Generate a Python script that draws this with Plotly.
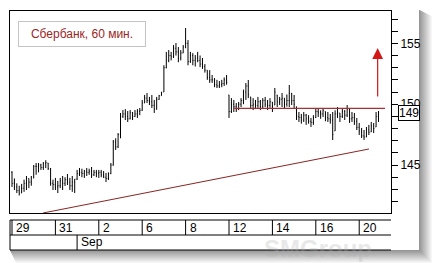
import plotly.graph_objects as go

# ---------------- data ----------------
day_labels = ['29', '31', '2', '6', '8', '12', '14', '16', '20']
day_pos = [0, 2, 4, 6, 8, 10, 12, 14, 16]          # trading-day index of each label
month_labels = ['Sep']
month_pos = [3]
bars_per_day = 9
title_text = 'Сбербанк, 60 мин.'

first_open = 144.4
high = [
    144.5, 143.9, 143.5, 143.3, 143.45, 143.8, 144.1, 143.9, 144.1,
    145.0, 145.17, 145.17, 145.1, 145.25, 145.4, 145.17, 144.76, 143.8,
    143.94, 143.7, 143.94, 144.1, 144.0, 144.26, 143.94, 144.1, 143.85,
    144.6, 144.76, 144.7, 144.6, 144.76, 144.7, 144.84, 144.6, 144.6,
    144.6, 144.6, 144.5, 144.35, 144.4, 145.17, 147.06, 147.2, 147.63,
    149.28, 149.52, 149.6, 149.44, 149.52, 149.36, 149.52, 149.6, 149.69,
    150.35, 150.76, 150.92, 150.6, 150.76, 150.35, 150.6, 150.76, 151.0,
    153.2, 154.3, 154.45, 154.3, 154.86, 155.03, 154.7, 154.45, 154.86,
    156.26, 155.27, 154.3, 154.2, 154.04, 154.3, 154.0, 153.8, 153.3,
    152.8, 152.8, 152.4, 152.15, 152.0, 151.9, 152.0, 152.2, 152.4,
    150.76, 150.5, 150.35, 150.1, 150.18, 150.5, 151.2, 151.74, 151.99,
    150.6, 150.5, 150.35, 150.6, 150.35, 150.5, 150.6, 150.35, 150.5,
    150.18, 151.33, 150.76, 150.6, 150.92, 150.5, 150.8, 151.58, 150.92,
    150.76, 149.8, 149.36, 149.2, 149.36, 149.2, 149.1, 148.87, 149.1,
    149.69, 149.69, 149.5, 149.69, 149.4, 149.36, 149.2, 149.36, 149.5,
    149.77, 149.28, 149.69, 149.52, 149.93, 149.69, 149.36, 149.28, 148.87,
    148.46, 148.05, 147.88, 148.13, 148.3, 148.54, 148.46, 149.36, 149.44,
]
low = [
    143.2, 142.95, 142.7, 142.5, 142.7, 142.8, 142.95, 143.1, 143.3,
    143.9, 144.2, 144.4, 144.6, 144.6, 144.75, 144.6, 143.3, 142.95,
    142.95, 142.7, 143.1, 142.95, 143.28, 143.36, 142.95, 142.8, 142.7,
    143.77, 144.1, 144.0, 143.94, 144.1, 144.2, 143.94, 144.1, 144.0,
    143.94, 144.0, 143.94, 143.6, 143.77, 144.25, 144.95, 146.24, 146.4,
    147.2, 148.87, 148.7, 148.54, 148.75, 148.7, 148.95, 148.87, 149.1,
    149.45, 150.1, 150.1, 149.93, 149.69, 149.28, 149.55, 150.35, 150.7,
    151.0, 152.95, 153.45, 153.6, 153.8, 154.0, 153.45, 153.6, 154.2,
    154.6, 153.2, 153.4, 153.2, 153.1, 153.45, 153.05, 152.9, 152.6,
    152.0, 151.75, 151.75, 151.4, 151.33, 151.33, 151.4, 151.5, 151.6,
    148.87, 149.28, 149.36, 149.36, 149.52, 149.77, 150.0, 150.35, 150.5,
    149.6, 149.52, 149.6, 149.7, 149.52, 149.6, 149.77, 149.52, 149.7,
    149.36, 149.93, 149.77, 149.93, 149.77, 149.69, 149.8, 149.77, 149.93,
    149.69, 148.7, 148.54, 148.4, 148.54, 148.3, 148.4, 148.13, 148.3,
    148.87, 148.95, 148.8, 148.95, 148.6, 148.54, 148.4, 147.06, 147.8,
    148.87, 148.54, 148.87, 148.7, 148.95, 148.46, 148.54, 148.3, 147.88,
    147.47, 147.22, 147.06, 147.3, 147.47, 147.72, 147.63, 148.13, 148.54,
]
close = [
    143.5, 143.2, 142.9, 142.7, 143.1, 143.5, 143.9, 143.6, 144.0,
    144.9, 144.9, 145.0, 144.8, 145.1, 145.2, 144.7, 143.5, 143.4,
    143.2, 143.3, 143.7, 143.5, 143.8, 143.6, 143.3, 143.6, 143.85,
    144.3, 144.4, 144.3, 144.5, 144.4, 144.5, 144.2, 144.4, 144.3,
    144.4, 144.2, 144.0, 143.9, 144.3, 145.0, 146.9, 146.5, 147.5,
    149.0, 149.2, 149.0, 148.8, 149.3, 149.0, 149.2, 149.4, 149.5,
    150.1, 150.5, 150.3, 150.2, 149.9, 149.6, 150.4, 150.7, 151.0,
    153.0, 153.6, 154.0, 153.9, 154.6, 154.3, 153.8, 154.2, 154.7,
    155.0, 153.5, 154.0, 153.6, 153.8, 153.6, 153.3, 153.1, 152.8,
    152.2, 152.0, 152.0, 151.6, 151.5, 151.6, 151.7, 152.0, 151.8,
    149.4, 150.0, 149.8, 149.6, 150.0, 150.3, 151.0, 151.5, 150.8,
    149.9, 150.0, 149.9, 150.2, 149.8, 150.3, 150.0, 149.9, 150.2,
    149.8, 151.0, 150.2, 150.4, 150.5, 150.0, 150.3, 150.9, 150.3,
    150.0, 149.0, 148.9, 148.7, 149.1, 148.8, 148.6, 148.5, 148.9,
    149.4, 149.3, 149.2, 149.5, 148.9, 148.8, 148.7, 147.5, 149.2,
    149.3, 149.0, 149.4, 149.1, 149.6, 148.8, 148.9, 148.6, 148.1,
    147.8, 147.4, 147.3, 147.9, 147.7, 148.2, 148.0, 149.0, 149.3,
]

# drawn lines (in trading-day / price units)
trend_x = [1.43, 16.45]
trend_y = [141.06, 146.32]
resist_x = [10.23, 17.19]
resist_y = [149.66, 149.66]
arrow_x = 16.85
arrow_from = 150.51
arrow_to = 154.61

# ---------------- derived ----------------
n = len(close)
xs = [i / bars_per_day for i in range(n)]
open_ = []
prev = first_open
for i in range(n):
    open_.append(min(max(prev, low[i]), high[i]))
    prev = close[i]

# ---------------- layout helpers ----------------
W, H = 432, 263
ML, MR, MT, MB = 10, 41, 11, 50


def pxx(p):
    return (p - ML) / (W - ML - MR)


def pxy(p):
    return (H - MB - p) / (H - MT - MB)


FONT = 'Liberation Sans, Arial, sans-serif'

fig = go.Figure()
fig.add_trace(go.Ohlc(
    x=xs, open=open_, high=high, low=low, close=close,
    increasing=dict(line=dict(color='black', width=1)),
    decreasing=dict(line=dict(color='black', width=1)),
    tickwidth=0.25, hoverinfo='skip', showlegend=False,
))
fig.add_trace(go.Scatter(x=trend_x, y=trend_y, mode='lines',
                         line=dict(color='#8a2424', width=1), showlegend=False,
                         hoverinfo='skip'))
fig.add_trace(go.Scatter(x=resist_x, y=resist_y, mode='lines',
                         line=dict(color='#a83030', width=1.2), showlegend=False,
                         hoverinfo='skip'))

shapes = []
# shadow of the card (right and bottom)
for j in range(13):
    g = int(150 + j * 8)
    col = f'rgb({g},{g},{g})'
    shapes.append(dict(type='rect', xref='paper', yref='paper',
                       x0=pxx(419 + j), x1=pxx(420 + j), y0=pxy(263), y1=pxy(10 + j * 0.5),
                       line=dict(width=0), fillcolor=col, layer='below'))
    shapes.append(dict(type='rect', xref='paper', yref='paper',
                       x0=pxx(10 + j * 0.5), x1=pxx(432), y0=pxy(251 + j), y1=pxy(250 + j),
                       line=dict(width=0), fillcolor=col, layer='below'))
# date box
for py in (220, 235, 250):
    shapes.append(dict(type='line', xref='paper', yref='paper', x0=0, x1=1,
                       y0=pxy(py), y1=pxy(py), line=dict(color='black', width=1)))
shapes.append(dict(type='line', xref='paper', yref='paper', x0=0, x1=0,
                   y0=pxy(220), y1=pxy(250), line=dict(color='black', width=1)))
for d in day_pos:
    shapes.append(dict(type='line', xref='x', yref='paper', x0=d, x1=d,
                       y0=pxy(220), y1=pxy(235), line=dict(color='black', width=1)))
for d in month_pos:
    shapes.append(dict(type='line', xref='x', yref='paper', x0=d, x1=d,
                       y0=pxy(235), y1=pxy(250), line=dict(color='black', width=1)))

annotations = []
for d, t in zip(day_pos, day_labels):
    annotations.append(dict(x=d, xref='x', y=pxy(228), yref='paper', text=t,
                            xanchor='left', yanchor='middle', xshift=2, showarrow=False,
                            font=dict(family=FONT, size=12, color='black')))
for d, t in zip(month_pos, month_labels):
    annotations.append(dict(x=d, xref='x', y=pxy(242.5), yref='paper', text=t,
                            xanchor='left', yanchor='middle', xshift=2, showarrow=False,
                            font=dict(family=FONT, size=12, color='black')))
# watermark (faint, sits in the lower date row)
annotations.append(dict(x=pxx(318), xref='paper', y=pxy(248), yref='paper', text='<b>SMGroup</b>',
                        showarrow=False, xanchor='center', yanchor='middle',
                        font=dict(family=FONT, size=24, color='rgba(175,175,175,0.30)')))
# title box
annotations.append(dict(x=pxx(18), xref='paper', y=pxy(21), yref='paper', text=title_text,
                        xanchor='left', yanchor='top', showarrow=False, width=124, height=22,
                        align='center', valign='middle', bordercolor='#c4c4c4', borderwidth=1,
                        borderpad=1, bgcolor='white',
                        font=dict(family=FONT, size=12, color='#9a2626')))
# last price label
annotations.append(dict(x=pxx(398), xref='paper', y=close[-1], yref='y', text=str(int(close[-1])),
                        xanchor='left', yanchor='middle', showarrow=False, bordercolor='black',
                        borderwidth=1, borderpad=0, bgcolor='white',
                        font=dict(family=FONT, size=12, color='black')))
# arrow
annotations.append(dict(x=arrow_x, y=arrow_to, ax=arrow_x, ay=arrow_from, xref='x', yref='y',
                        axref='x', ayref='y', text='', showarrow=True, arrowhead=2, arrowsize=1.8,
                        arrowwidth=1.2, arrowcolor='#d41818', standoff=0))

fig.update_layout(
    width=W, height=H,
    margin=dict(l=ML, r=MR, t=MT, b=MB, pad=0),
    paper_bgcolor='white', plot_bgcolor='white',
    shapes=shapes, annotations=annotations,
    showlegend=False,
    xaxis=dict(range=[-0.092, 17.465], showticklabels=False, ticks='', showgrid=False,
               zeroline=False, showline=True, mirror=True, linecolor='black', linewidth=1,
               rangeslider=dict(visible=False), fixedrange=True),
    yaxis=dict(range=[141.06, 157.66], side='right', dtick=5, tick0=0, ticks='outside',
               ticklen=6, tickcolor='black', tickwidth=1,
               minor=dict(dtick=1, ticks='outside', ticklen=6, tickcolor='black', tickwidth=1),
               showgrid=False, zeroline=False, showline=True, mirror=True,
               linecolor='black', linewidth=1,
               tickfont=dict(family=FONT, size=12, color='black'), fixedrange=True),
)

fig.write_html('out.html', config=dict(displayModeBar=False))
